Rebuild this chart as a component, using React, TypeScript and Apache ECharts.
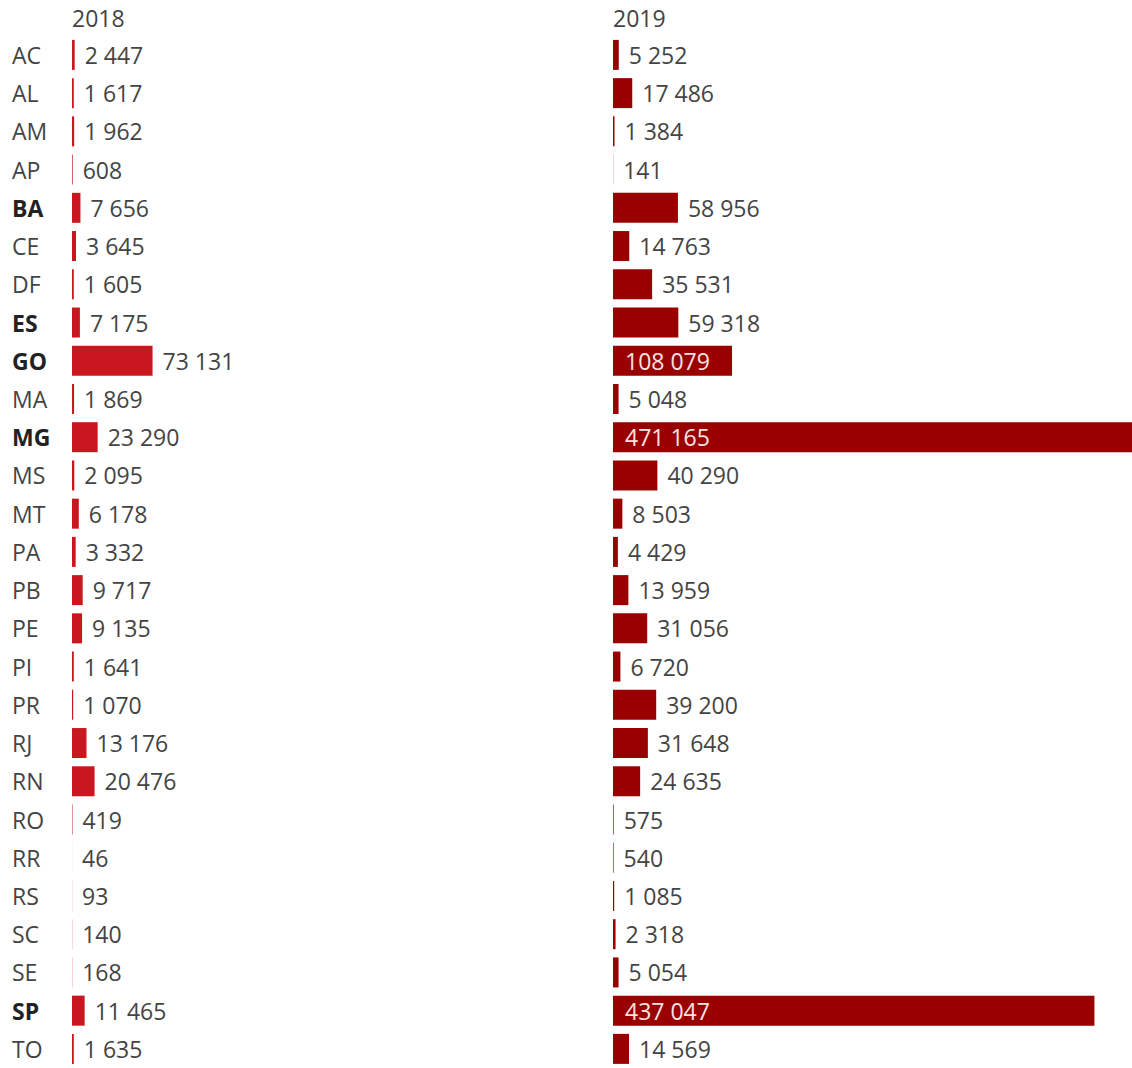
import React, { useEffect, useRef } from "react";
import * as echarts from "echarts";

const states = ["AC","AL","AM","AP","BA","CE","DF","ES","GO","MA","MG","MS","MT","PA","PB","PE","PI","PR","RJ","RN","RO","RR","RS","SC","SE","SP","TO"];
const values2018 = [2447,1617,1962,608,7656,3645,1605,7175,73131,1869,23290,2095,6178,3332,9717,9135,1641,1070,13176,20476,419,46,93,140,168,11465,1635];
const values2019 = [5252,17486,1384,141,58956,14763,35531,59318,108079,5048,471165,40290,8503,4429,13959,31056,6720,39200,31648,24635,575,540,1085,2318,5054,437047,14569];
const boldStates = ["BA","ES","GO","MG","SP"];
const years = ["2018","2019"];

const FONT = "'Open Sans', sans-serif";
const FS = 23;
const TEXT = "#444444";
const fmt = (v: number) => String(v).replace(/\B(?=(\d{3})+(?!\d))/g, " ");

export default function App() {
  const ref = useRef<HTMLDivElement>(null);
  useEffect(() => {
    const chart = echarts.init(ref.current!, null, { renderer: "svg" });
    const rowH = 38.44;
    const top = 55 - rowH / 2;
    const height = rowH * states.length;
    const maxV = 471165;
    const grids = [
      { left: 72, top, width: 519, height },
      { left: 613, top, width: 519, height },
    ];
    const yAxis = [0, 1].map((i) => ({
      type: "category",
      gridIndex: i,
      data: states,
      inverse: true,
      axisLine: { show: false },
      axisTick: { show: false },
      splitLine: { show: false },
      axisLabel: {
        show: i === 0,
        align: "left",
        margin: 60,
        fontFamily: FONT,
        fontSize: FS,
        color: TEXT,
        formatter: (v: string) => (boldStates.includes(v) ? `{b|${v}}` : `{n|${v}}`),
        rich: {
          b: { fontFamily: FONT, fontSize: FS, fontWeight: "bold", color: "#222" },
          n: { fontFamily: FONT, fontSize: FS, color: TEXT },
        },
      },
    }));
    const xAxis = [0, 1].map((i) => ({
      type: "value",
      gridIndex: i,
      min: 0,
      max: maxV,
      show: false,
      splitLine: { show: false },
    }));
    const labelBase = {
      show: true,
      position: "right",
      distance: 10,
      fontFamily: FONT,
      fontSize: FS,
      color: TEXT,
      formatter: (p: any) => fmt(p.value),
    };
    const mk = (vals: number[]) =>
      vals.map((v) =>
        v > 100000
          ? { value: v, label: { position: "insideLeft", distance: 12, color: "#fbe3e3" } }
          : { value: v }
      );
    chart.setOption({
      animation: false,
      grid: grids,
      xAxis,
      yAxis,
      graphic: [
        { type: "text", x: 72, y: 17.5, style: { text: years[0], fontFamily: FONT, fontSize: FS, fill: TEXT, verticalAlign: "middle" } },
        { type: "text", x: 613, y: 17.5, style: { text: years[1], fontFamily: FONT, fontSize: FS, fill: TEXT, verticalAlign: "middle" } },
      ],
      series: [
        {
          type: "bar",
          xAxisIndex: 0,
          yAxisIndex: 0,
          data: mk(values2018),
          barWidth: 30,
          itemStyle: { color: "#c8171e" },
          label: labelBase,
        },
        {
          type: "bar",
          xAxisIndex: 1,
          yAxisIndex: 1,
          data: mk(values2019),
          barWidth: 30,
          itemStyle: { color: "#990000" },
          label: labelBase,
        },
      ],
    });
    return () => chart.dispose();
  }, []);
  return (
    <div
      ref={ref}
      style={{ position: "absolute", left: 0, top: 0, width: 1132, height: 1068, background: "#fff" }}
    />
  );
}
